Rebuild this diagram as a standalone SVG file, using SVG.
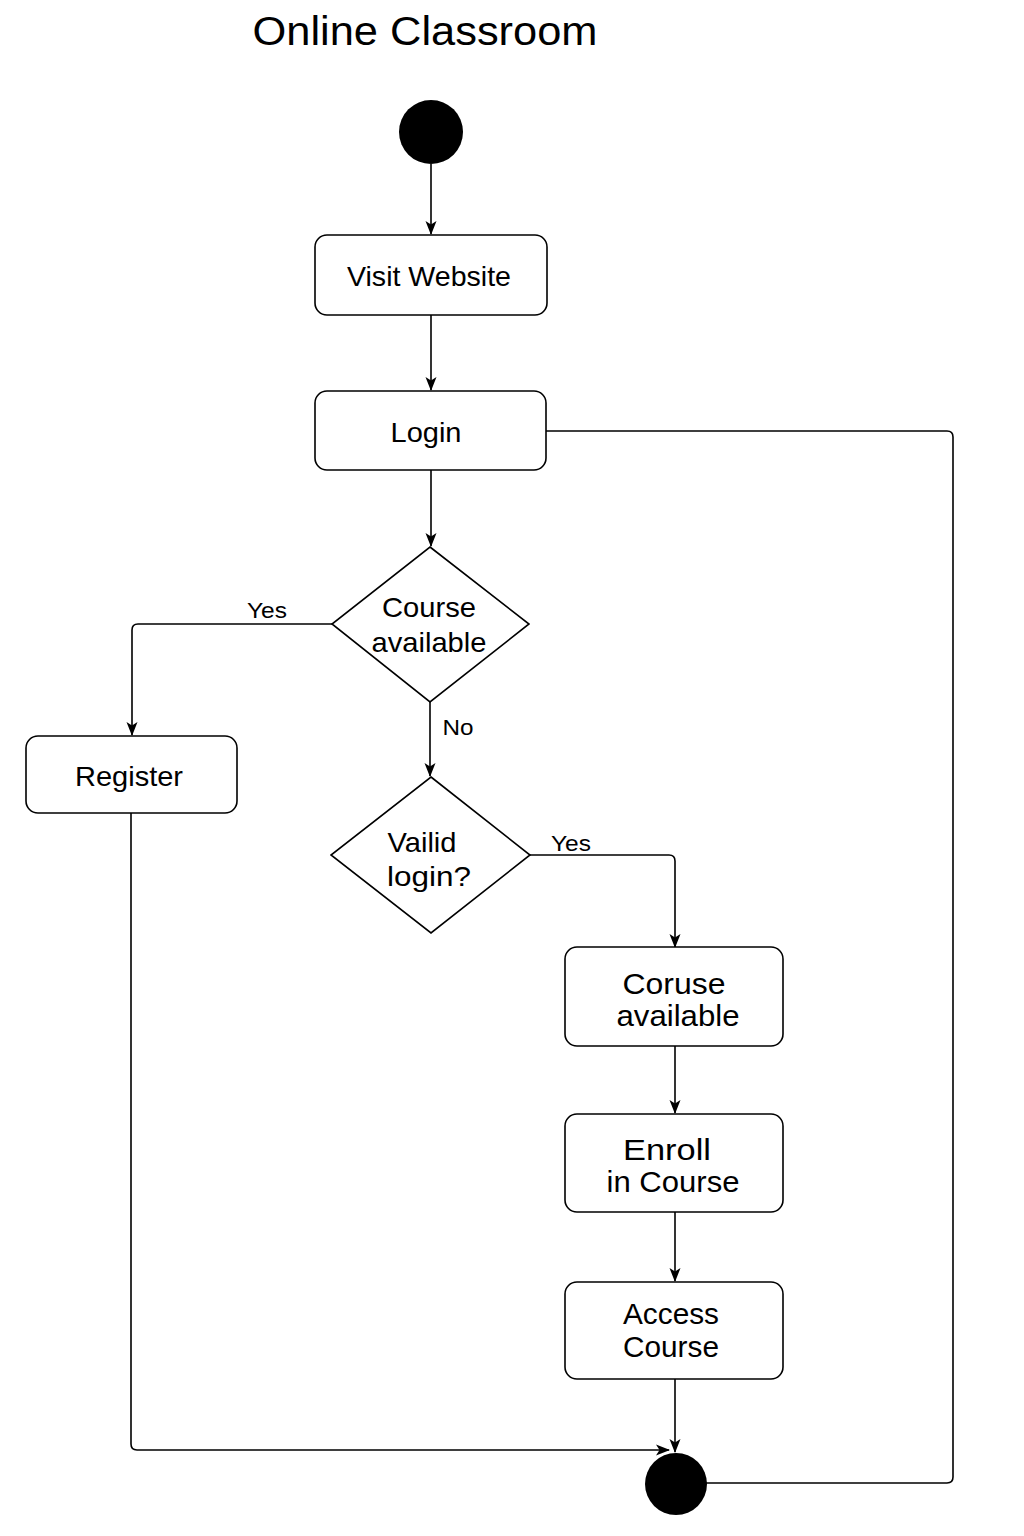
<svg xmlns="http://www.w3.org/2000/svg" width="1024" height="1536" viewBox="0 0 1024 1536">
<defs>
<marker id="arr" viewBox="0 0 14 12" refX="13" refY="6" markerWidth="14" markerHeight="12" markerUnits="userSpaceOnUse" orient="auto">
<path d="M0,0.5 L14,6 L0,11.5 L3.5,6 Z" fill="#000"/>
</marker>
<style>
.box{fill:#fff;stroke:#000;stroke-width:1.6}
.t{font-family:"Liberation Sans",Arial,sans-serif;font-size:28px;fill:#000;text-anchor:middle}
.t2{font-family:"Liberation Sans",Arial,sans-serif;font-size:29px;fill:#000;text-anchor:middle}
.lbl{font-family:"Liberation Sans",Arial,sans-serif;font-size:22px;fill:#000;text-anchor:middle}
.c{fill:none;stroke:#000;stroke-width:1.6}
</style>
</defs>
<rect width="1024" height="1536" fill="#fff"/>
<text x="425" y="45" font-family="Liberation Sans, Arial, sans-serif" font-size="40" text-anchor="middle" textLength="345" lengthAdjust="spacingAndGlyphs">Online Classroom</text>
<g id="connectors">
<path class="c" d="M431,164 V234" marker-end="url(#arr)"/>
<path class="c" d="M431,315 V390" marker-end="url(#arr)"/>
<path class="c" d="M431,470 V546" marker-end="url(#arr)"/>
<path class="c" d="M332,624 H138 Q132,624 132,630 V735" marker-end="url(#arr)"/>
<path class="c" d="M430,702 V776" marker-end="url(#arr)"/>
<path class="c" d="M530,855 H669 Q675,855 675,861 V947" marker-end="url(#arr)"/>
<path class="c" d="M675,1046 V1113" marker-end="url(#arr)"/>
<path class="c" d="M675,1212 V1281" marker-end="url(#arr)"/>
<path class="c" d="M675,1379 V1452" marker-end="url(#arr)"/>
<path class="c" d="M131,813 V1444 Q131,1450 137,1450 H669" marker-end="url(#arr)"/>
<path class="c" d="M546,431 H947 Q953,431 953,437 V1477 Q953,1483 947,1483 H706"/>
<text class="lbl" x="267" y="618" textLength="40" lengthAdjust="spacingAndGlyphs">Yes</text>
<text class="lbl" x="458" y="735" textLength="31" lengthAdjust="spacingAndGlyphs">No</text>
<text class="lbl" x="571" y="851" textLength="40" lengthAdjust="spacingAndGlyphs">Yes</text>
</g>
<g id="start"><circle cx="431" cy="132" r="32" fill="#000"/></g>
<g id="visit"><rect class="box" x="315" y="235" width="232" height="80" rx="12"/><text class="t" x="429" y="286" textLength="164" lengthAdjust="spacingAndGlyphs">Visit Website</text></g>
<g id="login"><rect class="box" x="315" y="391" width="231" height="79" rx="12"/><text class="t" x="426" y="442" textLength="71" lengthAdjust="spacingAndGlyphs">Login</text></g>
<g id="decision1"><polygon class="box" points="430,547 529,624 430,702 332,624"/><text class="t" x="429" y="617" textLength="94" lengthAdjust="spacingAndGlyphs">Course</text><text class="t" x="429" y="652" textLength="115" lengthAdjust="spacingAndGlyphs">available</text></g>
<g id="register"><rect class="box" x="26" y="736" width="211" height="77" rx="12"/><text class="t" x="129" y="786" textLength="108" lengthAdjust="spacingAndGlyphs">Register</text></g>
<g id="decision2"><polygon class="box" points="431,777 530,855 431,933 331,855"/><text class="t" x="422" y="852" textLength="69" lengthAdjust="spacingAndGlyphs">Vailid</text><text class="t" x="429" y="886" textLength="84" lengthAdjust="spacingAndGlyphs">login?</text></g>
<g id="coruse"><rect class="box" x="565" y="947" width="218" height="99" rx="12"/><text class="t2" x="674" y="994" textLength="103" lengthAdjust="spacingAndGlyphs">Coruse</text><text class="t2" x="678" y="1026" textLength="123" lengthAdjust="spacingAndGlyphs">available</text></g>
<g id="enroll"><rect class="box" x="565" y="1114" width="218" height="98" rx="12"/><text class="t2" x="667" y="1160" font-size="31" textLength="88" lengthAdjust="spacingAndGlyphs">Enroll</text><text class="t2" x="673" y="1192" textLength="133" lengthAdjust="spacingAndGlyphs">in Course</text></g>
<g id="access"><rect class="box" x="565" y="1282" width="218" height="97" rx="12"/><text class="t2" x="671" y="1324" textLength="96" lengthAdjust="spacingAndGlyphs">Access</text><text class="t2" x="671" y="1357" textLength="96" lengthAdjust="spacingAndGlyphs">Course</text></g>
<g id="end"><circle cx="676" cy="1484" r="31" fill="#000"/></g>
</svg>
